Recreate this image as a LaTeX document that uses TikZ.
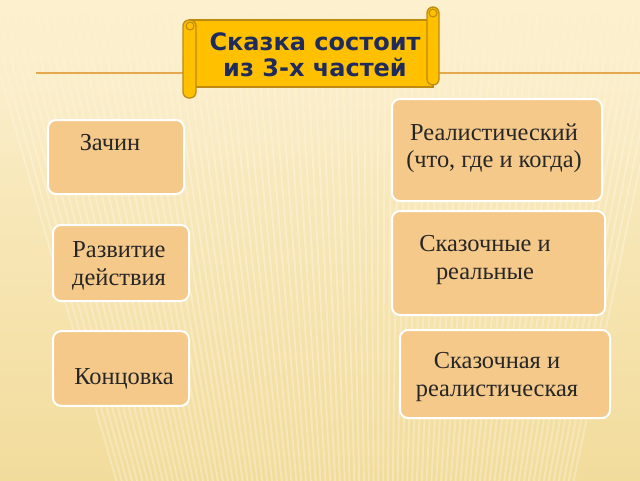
\documentclass[tikz,border=0pt]{standalone}
\usepackage{fontspec}
\setmainfont{Liberation Serif}
\newfontfamily\titlefont{DejaVu Sans}
\usetikzlibrary{fadings}
\definecolor{cream}{HTML}{FCF0CE}
\definecolor{creamdark}{HTML}{F2DC9C}
\definecolor{peach}{HTML}{F5C98A}
\definecolor{scrollfill}{HTML}{FFC000}
\definecolor{scrolledge}{HTML}{BF8A10}
\definecolor{navy}{HTML}{1F2B5C}
\definecolor{rule}{HTML}{E6A84E}
\tikzset{
  part/.style={draw=white, line width=1.5pt, fill=peach, rounded corners=6pt},
  parttext/.style={font=\fontsize{18.3}{20.5}\selectfont, align=center, text=black!85},
  roll/.style={draw=scrolledge, line width=1pt, fill=scrollfill, rounded corners=4.5pt}
}
\begin{document}
\begin{tikzpicture}[x=0.75pt,y=-0.75pt]
            \useasboundingbox (0,0) rectangle (640,480);
            % background with rays
            \shade[top color=cream, bottom color=creamdark] (0,0) rectangle (640,480);
            \begin{scope}
            \clip (0,0) rectangle (640,480);
            \foreach \a in {-16,-15.7,...,12}
              \draw[white, opacity=0.28, line width=1.4pt] (380,1400) -- ++(-90+\a:1600);
            \fill[cream, path fading=south] (0,0) rectangle (640,180);
            \end{scope}
            \draw[rule, line width=1.5pt] (36,73) -- (640,73);
            % scroll
            \draw[roll, rounded corners=0pt] (190,20) rectangle (433,87);
            \draw[roll] (427,7) rectangle (439,85);
            \draw[roll] (183,20) rectangle (196,98);
            \draw[scrolledge, line width=0.8pt] (190,26) circle (4);
            \draw[scrolledge, line width=0.8pt] (433,13) circle (4);
            \node[font=\titlefont\bfseries\fontsize{18}{19.5}\selectfont, text=navy, align=center] (title) at (315,55) {Сказка состоит\\ из 3-х частей};
            % left column
            \node[part, minimum width=102pt, minimum height=55.5pt] (zachin) at (116,157) {};
            \node[part, minimum width=102pt, minimum height=57pt] (razvitie) at (121,263) {};
            \node[part, minimum width=102pt, minimum height=56pt] (koncovka) at (121,368.5) {};
            \node[parttext] (zachinT) at (110,143) {Зачин};
            \node[parttext] (razvitieT) at (119,266) {Развитие\\действия};
            \node[parttext] (koncovkaT) at (124,379) {Концовка};
            % right column
            \node[part, minimum width=157.5pt, minimum height=76.5pt] (real) at (497,150) {};
            \node[part, minimum width=159.75pt, minimum height=78pt] (skaz) at (498.5,263) {};
            \node[part, minimum width=157.5pt, minimum height=66pt] (skazreal) at (505,374) {};
            \node[parttext] (realT) at (494,148) {Реалистический\\(что, где и когда)};
            \node[parttext] (skazT) at (485,260) {Сказочные и\\ реальные};
            \node[parttext] (skazrealT) at (497,377) {Сказочная и\\реалистическая};
        \end{tikzpicture}
\end{document}
